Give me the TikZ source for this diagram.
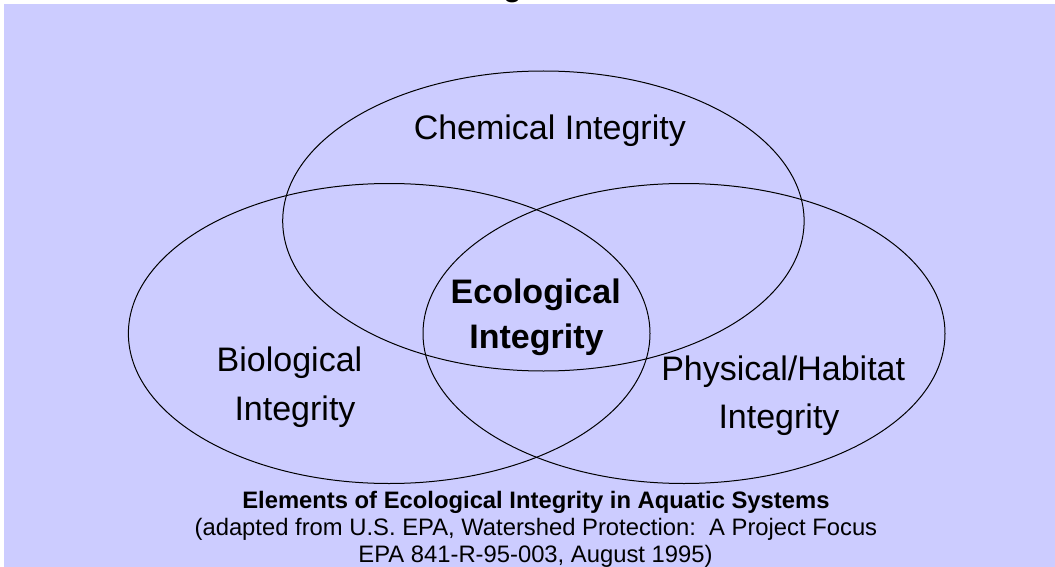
\documentclass[tikz,border=0pt]{standalone}
\usepackage{fontspec}
\setmainfont{Liberation Sans}
\definecolor{bgblue}{HTML}{CCCCFF}
\begin{document}
\begin{tikzpicture}[x=1pt,y=-1pt,
  ring/.style={draw=black,line width=1pt},
  biglabel/.style={inner sep=0pt,anchor=base,font=\fontsize{34}{40}\selectfont},
  biglabelb/.style={inner sep=0pt,anchor=base,font=\fontsize{34}{40}\selectfont\bfseries},
  captext/.style={inner sep=0pt,anchor=base,font=\fontsize{23.8}{27}\selectfont},
  captextb/.style={inner sep=0pt,anchor=base,font=\fontsize{23.8}{27}\selectfont\bfseries}]
\useasboundingbox (0,0) rectangle (1055,567);
\fill[white] (0,0) rectangle (1055,567);
\fill[bgblue] (4,4) rectangle (1055,567);
\begin{scope}
\clip (0,0) rectangle (1055,567);
\node[biglabelb,font=\fontsize{30}{36}\selectfont\bfseries] (title) at (512.5,-3.5) {g};
\end{scope}
% ellipses
\draw[ring] (543.4,221) ellipse [x radius=260.7, y radius=150];
\draw[ring] (389.2,333.5) ellipse [x radius=260.8, y radius=150];
\draw[ring] (684,333.5) ellipse [x radius=261, y radius=150];
% labels
\node[biglabel] (chem) at (549.8,139.3) {Chemical Integrity};
\node[biglabel] (bio1) at (289.5,371) {Biological};
\node[biglabel] (bio2) at (295,420.7) {Integrity};
\node[biglabel] (phy1) at (783.2,380.7) {Physical/Habitat};
\node[biglabel] (phy2) at (779,428.3) {Integrity};
\node[biglabelb] (eco1) at (535.7,303.3) {Ecological};
\node[biglabelb] (eco2) at (536.5,348.3) {Integrity};
% caption
\node[captextb] (cap1) at (535.9,508.5) {Elements of Ecological Integrity in Aquatic Systems};
\node[captext] (cap2) at (535.9,535.7) {(adapted from U.S. EPA, Watershed Protection:\ \ A Project Focus};
\node[captext] (cap3) at (535.5,562.3) {EPA 841-R-95-003, August 1995)};
\end{tikzpicture}
\end{document}
